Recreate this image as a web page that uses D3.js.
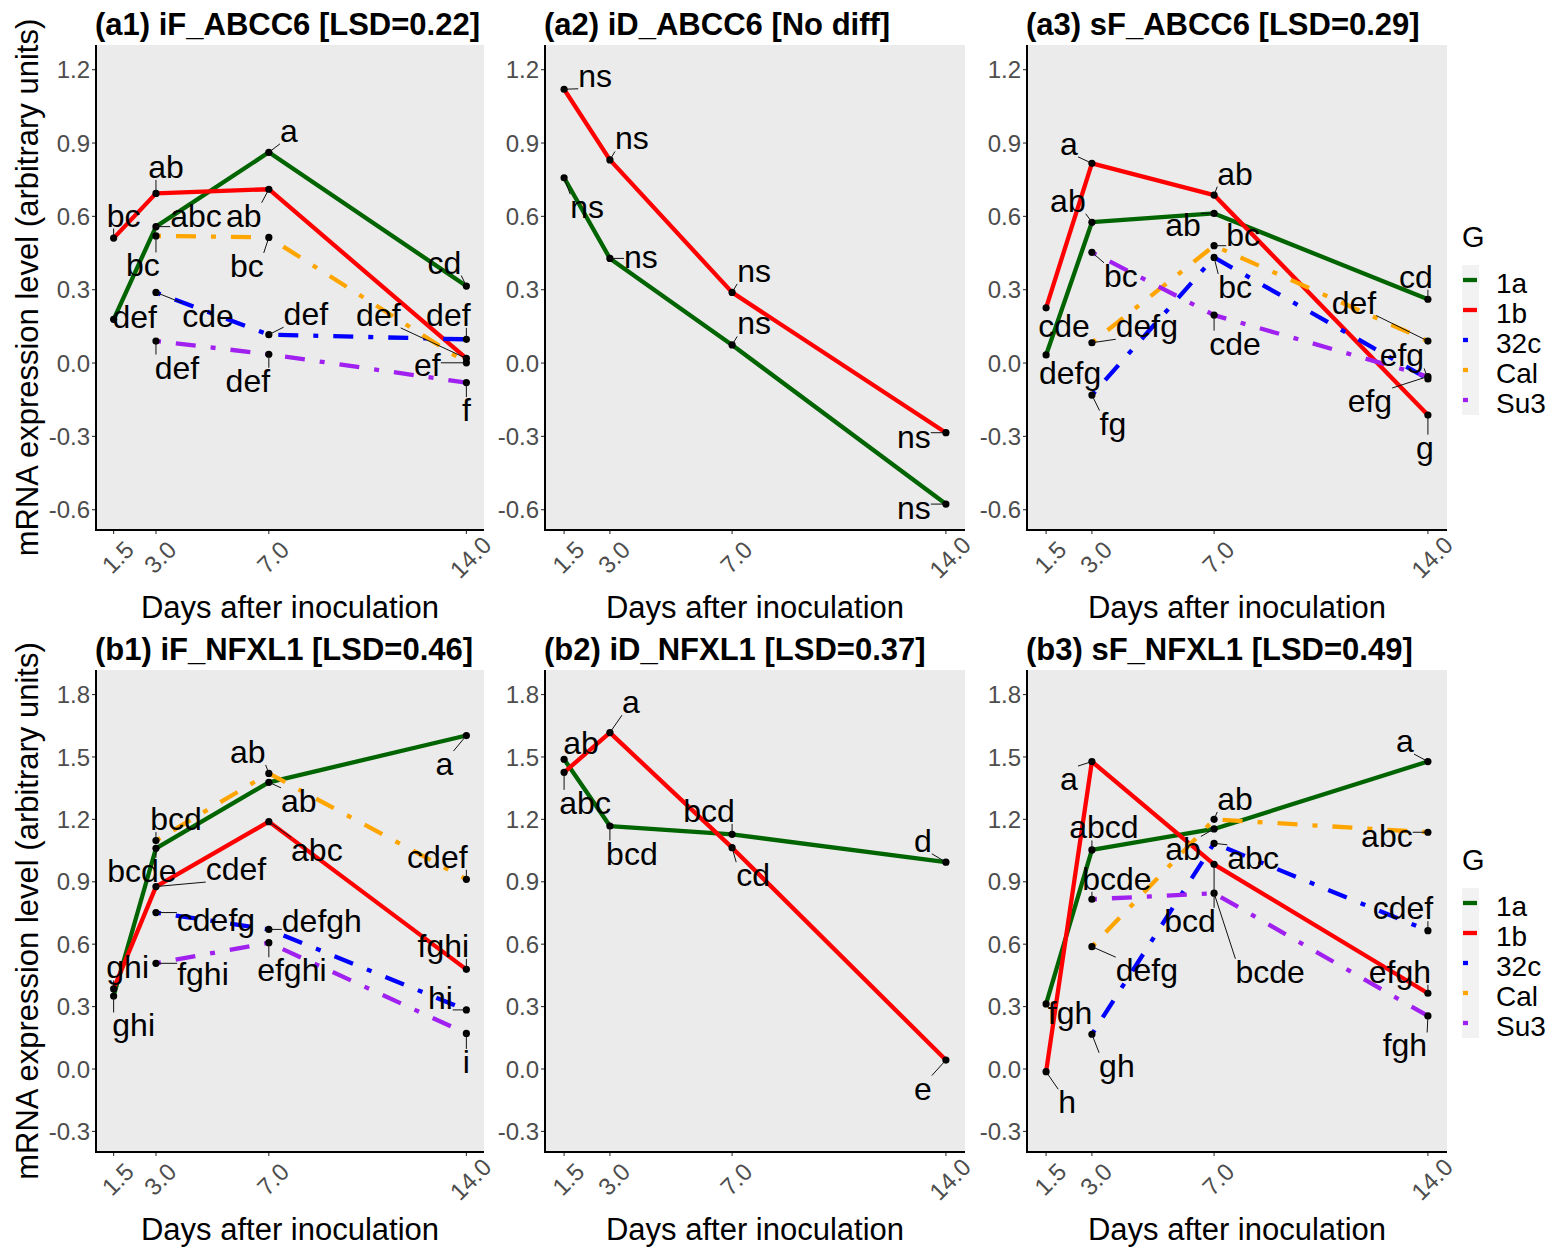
<!DOCTYPE html>
<html>
<head>
<meta charset="utf-8">
<script src="https://cdn.jsdelivr.net/npm/d3@7"></script>
<style>
  body { margin: 0; background: #fff; }
  svg { display: block; }
  text { font-family: "Liberation Sans", Arial, Helvetica, sans-serif; }
</style>
</head>
<body>
<svg id="chart" width="1555" height="1247"></svg>
<script>
// ---- data ---------------------------------------------------------------
const days = [1.5, 3.0, 7.0, 14.0];
const dayTickLabels = ["1.5", "3.0", "7.0", "14.0"];
const genotypes = ["1a", "1b", "32c", "Cal", "Su3"];
const genotypeColors = ["#006400", "#FF0000", "#0000FF", "#FFA500", "#A020F0"];

const panelIds = ["a1", "a2", "a3", "b1", "b2", "b3"];
const panelTitles = [
  "(a1) iF_ABCC6 [LSD=0.22]",
  "(a2) iD_ABCC6 [No diff]",
  "(a3) sF_ABCC6 [LSD=0.29]",
  "(b1) iF_NFXL1 [LSD=0.46]",
  "(b2) iD_NFXL1 [LSD=0.37]",
  "(b3) sF_NFXL1 [LSD=0.49]"
];

const rowATicks = [-0.6, -0.3, 0.0, 0.3, 0.6, 0.9, 1.2];
const rowATickLabels = ["-0.6", "-0.3", "0.0", "0.3", "0.6", "0.9", "1.2"];
const rowBTicks = [-0.3, 0.0, 0.3, 0.6, 0.9, 1.2, 1.5, 1.8];
const rowBTickLabels = ["-0.3", "0.0", "0.3", "0.6", "0.9", "1.2", "1.5", "1.8"];
const rowADomain = [-0.683, 1.301];
const rowBDomain = [-0.399, 1.918];

// mean expression per genotype (rows: 1a, 1b, 32c, Cal, Su3; columns: days)
const a1Values = [
  [0.179, 0.558, 0.862, 0.315],
  [0.511, 0.694, 0.711, 0.019],
  [null, 0.289, 0.116, 0.097],
  [null, 0.520, 0.514, 0.001],
  [null, 0.090, 0.036, -0.080]
];
const a1Letters = [
  ["def", "abc", "a", "cd"],
  ["bc", "ab", "ab", "def"],
  [null, "cde", "def", "def"],
  [null, "bc", "bc", "ef"],
  [null, "def", "def", "f"]
];

const a2Values = [
  [0.758, 0.428, 0.074, -0.577],
  [1.120, 0.831, 0.289, -0.285],
  [null, null, null, null],
  [null, null, null, null],
  [null, null, null, null]
];
const a2Letters = [
  ["ns", "ns", "ns", "ns"],
  ["ns", "ns", "ns", "ns"],
  [null, null, null, null],
  [null, null, null, null],
  [null, null, null, null]
];

const a3Values = [
  [0.033, 0.576, 0.612, 0.261],
  [0.226, 0.817, 0.687, -0.213],
  [null, -0.131, 0.432, -0.065],
  [null, 0.083, 0.480, 0.090],
  [null, 0.453, 0.196, -0.055]
];
const a3Letters = [
  ["defg", "ab", "ab", "cd"],
  ["cde", "a", "ab", "g"],
  [null, "fg", "bc", "efg"],
  [null, "defg", "bc", "def"],
  [null, "bc", "cde", "efg"]
];

const b1Values = [
  [0.351, 1.061, 1.378, 1.603],
  [0.385, 0.877, 1.189, 0.479],
  [null, 0.752, 0.671, 0.284],
  [null, 1.098, 1.421, 0.912],
  [null, 0.508, 0.607, 0.171]
];
const b1Letters = [
  ["ghi", "bcde", "ab", "a"],
  ["ghi", "cdef", "abc", "fghi"],
  [null, "cdefg", "defgh", "hi"],
  [null, "bcd", "ab", "cdef"],
  [null, "fghi", "efghi", "i"]
];

const b2Values = [
  [1.489, 1.168, 1.128, 0.994],
  [1.426, 1.617, 1.064, 0.043],
  [null, null, null, null],
  [null, null, null, null],
  [null, null, null, null]
];
const b2Letters = [
  ["ab", "bcd", "bcd", "d"],
  ["abc", "a", "cd", "e"],
  [null, null, null, null],
  [null, null, null, null],
  [null, null, null, null]
];

const b3Values = [
  [0.313, 1.053, 1.154, 1.478],
  [-0.013, 1.478, 0.984, 0.364],
  [null, 0.167, 1.085, 0.665],
  [null, 0.588, 1.200, 1.138],
  [null, 0.816, 0.845, 0.255]
];
const b3Letters = [
  ["fgh", "abcd", "ab", "a"],
  ["h", "a", "bcd", "efgh"],
  [null, "gh", "abc", "cdef"],
  [null, "defg", "ab", "abc"],
  [null, "bcde", "bcde", "fgh"]
];

// ---- label placement (pixel offsets of each letter label from its point) --
const a1Nudge = [
  [[21, -3], [40, -11], [20, -22], [-22, -24]],
  [[10, -23], [10, -27], [-25, 26], [-88, -44]],
  [null, [52, 23], [37, -21], [-18, -25]],
  [null, [-13, 29], [-22, 28], [-39, 2]],
  [null, [21, 26], [-21, 26], [0, 27]]
];
const a2Nudge = [
  [[23, 29], [31, -2], [22, -22], [-32, 3]],
  [[31, -14], [22, -22], [22, -22], [-32, 4]],
  [], [], []
];
const a3Nudge = [
  [[24, 18], [-24, -22], [-31, 11], [-12, -23]],
  [[18, 18], [-23, -20], [21, -22], [-3, 32]],
  [null, [21, 28], [21, 29], [-26, -24]],
  [null, [55, -17], [29, -11], [-74, -39]],
  [null, [29, 23], [21, 28], [-58, 24]]
];
const b1Nudge = [
  [[20, 29], [-14, 22], [30, 18], [-22, 28]],
  [[14, -22], [80, -18], [48, 28], [-23, -24]],
  [null, [60, 7], [53, -9], [-26, -12]],
  [null, [20, -22], [-21, -22], [-29, -23]],
  [null, [47, 10], [23, 27], [0, 28]]
];
const b2Nudge = [
  [[17, -17], [22, 27], [-23, -24], [-23, -22]],
  [[21, 30], [21, -31], [21, 27], [-23, 28]],
  [], [], []
];
const b3Nudge = [
  [[24, 9], [12, -23], [-31, 20], [-23, -21]],
  [[21, 30], [-23, 17], [-24, 56], [-28, -22]],
  [null, [25, 31], [39, 14], [-25, -23]],
  [null, [55, 23], [21, -21], [-41, 3]],
  [null, [25, -21], [56, 78], [-23, 29]]
];

// ---- layout -------------------------------------------------------------
const colX = [[96, 484], [545, 965], [1027, 1447]];
const rowY = [[45, 530], [670, 1152]];
const xDomain = [0.875, 14.625];
const dotDash = "5,15,20,15";

const panelValues = [a1Values, a2Values, a3Values, b1Values, b2Values, b3Values];
const panelLetters = [a1Letters, a2Letters, a3Letters, b1Letters, b2Letters, b3Letters];
const panelNudges = [a1Nudge, a2Nudge, a3Nudge, b1Nudge, b2Nudge, b3Nudge];

const svg = d3.select("#chart");
svg.append("rect").attr("width", 1555).attr("height", 1247).attr("fill", "#fff");

panelIds.forEach((id, p) => {
  const row = Math.floor(p / 3), col = p % 3;
  const [x0, x1] = colX[col];
  const [yTop, yBot] = rowY[row];
  const x = d3.scaleLinear().domain(xDomain).range([x0, x1]);
  const y = d3.scaleLinear().domain(row === 0 ? rowADomain : rowBDomain).range([yBot, yTop]);
  const ticks = row === 0 ? rowATicks : rowBTicks;
  const tickLabels = row === 0 ? rowATickLabels : rowBTickLabels;

  const g = svg.append("g").attr("class", "panel panel-" + id);

  // panel background
  g.append("rect")
    .attr("x", x0).attr("y", yTop)
    .attr("width", x1 - x0).attr("height", yBot - yTop)
    .attr("fill", "#EBEBEB");

  // title
  g.append("text")
    .attr("x", x0 - 1).attr("y", yTop - 10)
    .attr("font-size", 31).attr("font-weight", "bold").attr("fill", "#000")
    .text(panelTitles[p]);

  // y axis
  const yAxis = g.append("g");
  yAxis.selectAll("line.tick").data(ticks).join("line")
    .attr("x1", x0 - 4).attr("x2", x0)
    .attr("y1", d => y(d)).attr("y2", d => y(d))
    .attr("stroke", "#333").attr("stroke-width", 1.1);
  yAxis.selectAll("text").data(ticks).join("text")
    .attr("x", x0 - 6).attr("y", d => y(d)).attr("dy", "0.36em")
    .attr("text-anchor", "end").attr("font-size", 24).attr("fill", "#4D4D4D")
    .text((d, i) => tickLabels[i]);

  // x axis
  const xAxis = g.append("g");
  xAxis.selectAll("line.tick").data(days).join("line")
    .attr("x1", d => x(d)).attr("x2", d => x(d))
    .attr("y1", yBot).attr("y2", yBot + 4)
    .attr("stroke", "#333").attr("stroke-width", 1.1);
  xAxis.selectAll("text").data(days).join("text")
    .attr("transform", d => `translate(${x(d) + 4},${yBot + 27}) rotate(-45)`)
    .attr("dy", "0.36em")
    .attr("text-anchor", "middle").attr("font-size", 24).attr("fill", "#4D4D4D")
    .text((d, i) => dayTickLabels[i]);

  // axis lines
  g.append("path")
    .attr("d", `M${x0},${yTop}V${yBot}H${x1}`)
    .attr("fill", "none").attr("stroke", "#000").attr("stroke-width", 2);

  // x axis title
  g.append("text")
    .attr("x", (x0 + x1) / 2).attr("y", yBot + 88)
    .attr("text-anchor", "middle").attr("font-size", 31).attr("fill", "#000")
    .text("Days after inoculation");

  // series
  const values = panelValues[p];
  const letters = panelLetters[p];
  const nudges = panelNudges[p];
  const series = genotypes.map((gname, gi) => ({
    name: gname,
    color: genotypeColors[gi],
    pts: days.map((day, di) => ({
      day, value: values[gi][di], letter: letters[gi][di],
      nudge: nudges[gi] ? nudges[gi][di] : null
    })).filter(d => d.value !== null)
  })).filter(s => s.pts.length);

  const line = d3.line().x(d => x(d.day)).y(d => y(d.value));
  g.append("g").selectAll("path").data(series).join("path")
    .attr("d", s => line(s.pts))
    .attr("fill", "none")
    .attr("stroke", s => s.color)
    .attr("stroke-width", 4.3)
    .attr("stroke-linejoin", "round")
    .attr("stroke-dasharray", s => (s.name === "1a" || s.name === "1b") ? null : dotDash);

  const allPts = series.flatMap(s => s.pts);
  g.append("g").selectAll("circle").data(allPts).join("circle")
    .attr("cx", d => x(d.day)).attr("cy", d => y(d.value))
    .attr("r", 3.6).attr("fill", "#000");

  // letter labels with leader segments
  const segLayer = g.append("g");
  const labLayer = g.append("g");
  allPts.forEach(d => {
    if (!d.letter) return;
    const px = x(d.day), py = y(d.value);
    const off = d.nudge || [0, -25];
    const t = labLayer.append("text")
      .attr("x", px + off[0]).attr("y", py + off[1]).attr("dy", "0.36em")
      .attr("text-anchor", "middle").attr("font-size", 32).attr("fill", "#000")
      .text(d.letter);
    const bb = t.node().getBBox();
    const bx0 = bb.x, bx1 = bb.x + bb.width;
    const by0 = bb.y + 5, by1 = bb.y + bb.height - 5;
    const nx = Math.max(bx0, Math.min(px, bx1));
    const ny = Math.max(by0, Math.min(py, by1));
    const len = Math.hypot(nx - px, ny - py);
    if (len > 7) {
      segLayer.append("line")
        .attr("x1", px).attr("y1", py).attr("x2", nx).attr("y2", ny)
        .attr("stroke", "#111").attr("stroke-width", 1);
    }
  });
});

// y axis titles
rowY.forEach(([yTop, yBot]) => {
  svg.append("text")
    .attr("transform", `translate(38,${(yTop + yBot) / 2}) rotate(-90)`)
    .attr("text-anchor", "middle").attr("font-size", 31).attr("fill", "#000")
    .text("mRNA expression level (arbitrary units)");
});

// legends
const legendTops = [237, 860];
legendTops.forEach(top => {
  const lg = svg.append("g");
  lg.append("text")
    .attr("x", 1462).attr("y", top).attr("dy", "0.36em")
    .attr("font-size", 29).attr("fill", "#000").text("G");
  const keyTop = top + 28;
  lg.append("rect")
    .attr("x", 1462).attr("y", keyTop)
    .attr("width", 17).attr("height", genotypes.length * 30)
    .attr("fill", "#F2F2F2");
  genotypes.forEach((gname, i) => {
    const cy = keyTop + 15 + i * 30;
    lg.append("line")
      .attr("x1", 1463).attr("x2", 1477).attr("y1", cy).attr("y2", cy)
      .attr("stroke", genotypeColors[i]).attr("stroke-width", 4.3)
      .attr("stroke-dasharray", (gname === "1a" || gname === "1b") ? null : dotDash);
    lg.append("text")
      .attr("x", 1496).attr("y", cy + 3).attr("dy", "0.36em")
      .attr("font-size", 28).attr("fill", "#000").text(gname);
  });
});
</script>
</body>
</html>
